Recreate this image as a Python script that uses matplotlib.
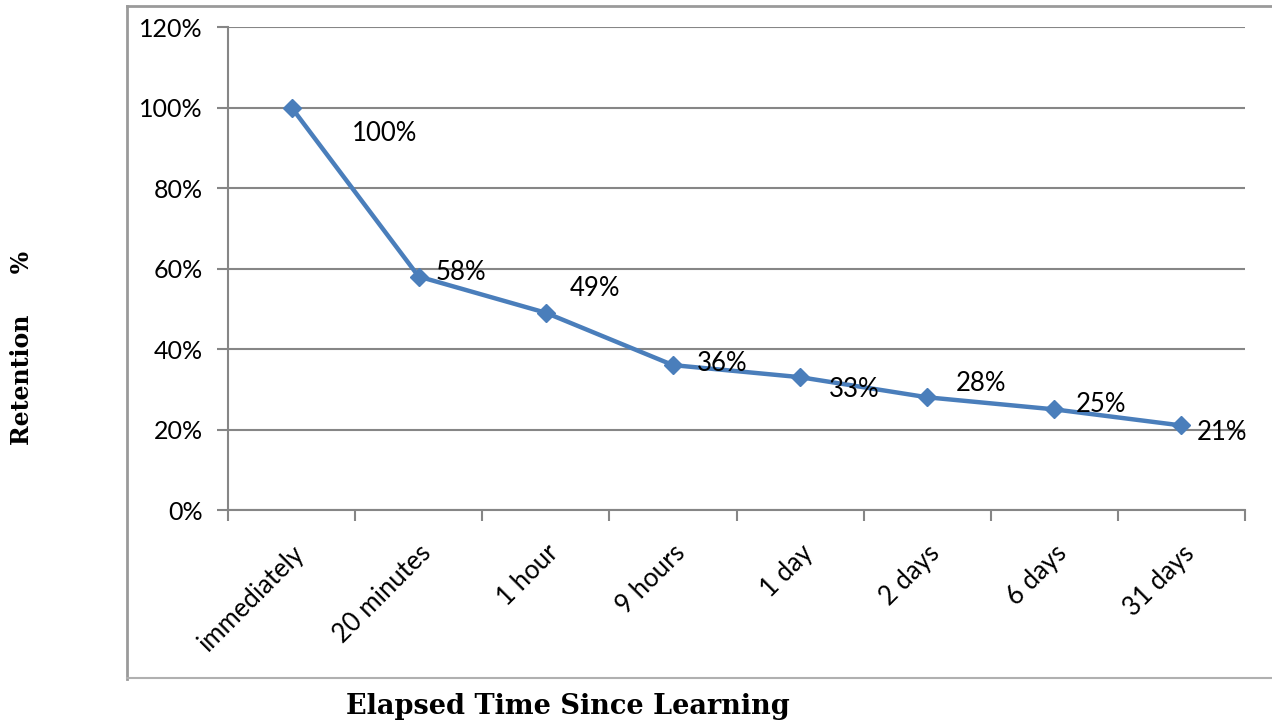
import matplotlib
matplotlib.use('Agg')
import matplotlib.pyplot as plt
import numpy as np

times = ['immediately', '20 minutes', '1 hour', '9 hours', '1 day', '2 days', '6 days', '31 days']
retention = [100, 58, 49, 36, 33, 28, 25, 21]
labels = ['100%', '58%', '49%', '36%', '33%', '28%', '25%', '21%']
# label offsets in pixels from each point (dx, dy)
offsets = [(93, -26), (42, 4), (49, 24), (49, 2), (54, -12), (54, 14), (47, 5), (41, -7)]

grey = '#868686'
blue = '#4A7EBB'

fig = plt.figure(figsize=(12.72, 7.23), dpi=100)
ax = fig.add_axes([228 / 1272, 1 - 510 / 723, (1245 - 228) / 1272, (510 - 27) / 723])

x = np.arange(len(times))
ax.plot(x, retention, color=blue, lw=3.2, marker='D', markersize=9, zorder=3)

for xi, yi, lab, (dx, dy) in zip(x, retention, labels, offsets):
    ax.annotate(lab, (xi, yi), xytext=(dx * 0.72, dy * 0.72), textcoords='offset points',
                ha='center', va='center', fontsize=18.5, family='Lato', color='black')

ax.set_xlim(-0.5, len(times) - 0.5)
ax.set_ylim(0, 120)
ax.set_yticks(range(0, 121, 20))
ax.set_yticklabels(['%d%%' % v for v in range(0, 121, 20)], fontsize=18, family='Lato')
ax.yaxis.grid(True, color=grey, lw=1.5)
ax.set_axisbelow(True)

ax.set_xticks(x)
ax.set_xticklabels(times, rotation=45, ha='right', va='top', rotation_mode='anchor',
                   fontsize=18.5, family='Lato')
ax.tick_params(axis='x', length=0, pad=22)
ax.set_xticks(np.arange(-0.5, len(times)), minor=True)
ax.tick_params(axis='x', which='minor', length=8, width=1.5, color=grey)
ax.tick_params(axis='y', length=8, width=1.5, color=grey, pad=10)

for s in ['top', 'right']:
    ax.spines[s].set_visible(False)
for s in ['left', 'bottom']:
    ax.spines[s].set_color(grey)
    ax.spines[s].set_linewidth(1.5)

# outer chart frame
fig.add_artist(plt.Line2D([127 / 1272, 127 / 1272], [1 - 6 / 723, 1 - 679 / 723], color='#9a9a9a', lw=2))
fig.add_artist(plt.Line2D([127 / 1272, 1], [1 - 6 / 723, 1 - 6 / 723], color='#9a9a9a', lw=2))
fig.add_artist(plt.Line2D([127 / 1272, 1], [1 - 678 / 723, 1 - 678 / 723], color='#b0b0b0', lw=1.5))

fig.text(568 / 1272, 1 - 706 / 723, 'Elapsed Time Since Learning', ha='center', va='center',
         fontsize=19.5, fontweight='bold', family='DejaVu Serif')
fig.text(22 / 1272, 1 - 348 / 723, 'Retention     %', ha='center', va='center', rotation=90,
         fontsize=17, fontweight='bold', family='DejaVu Serif')

fig.savefig('out.png', dpi=100)
